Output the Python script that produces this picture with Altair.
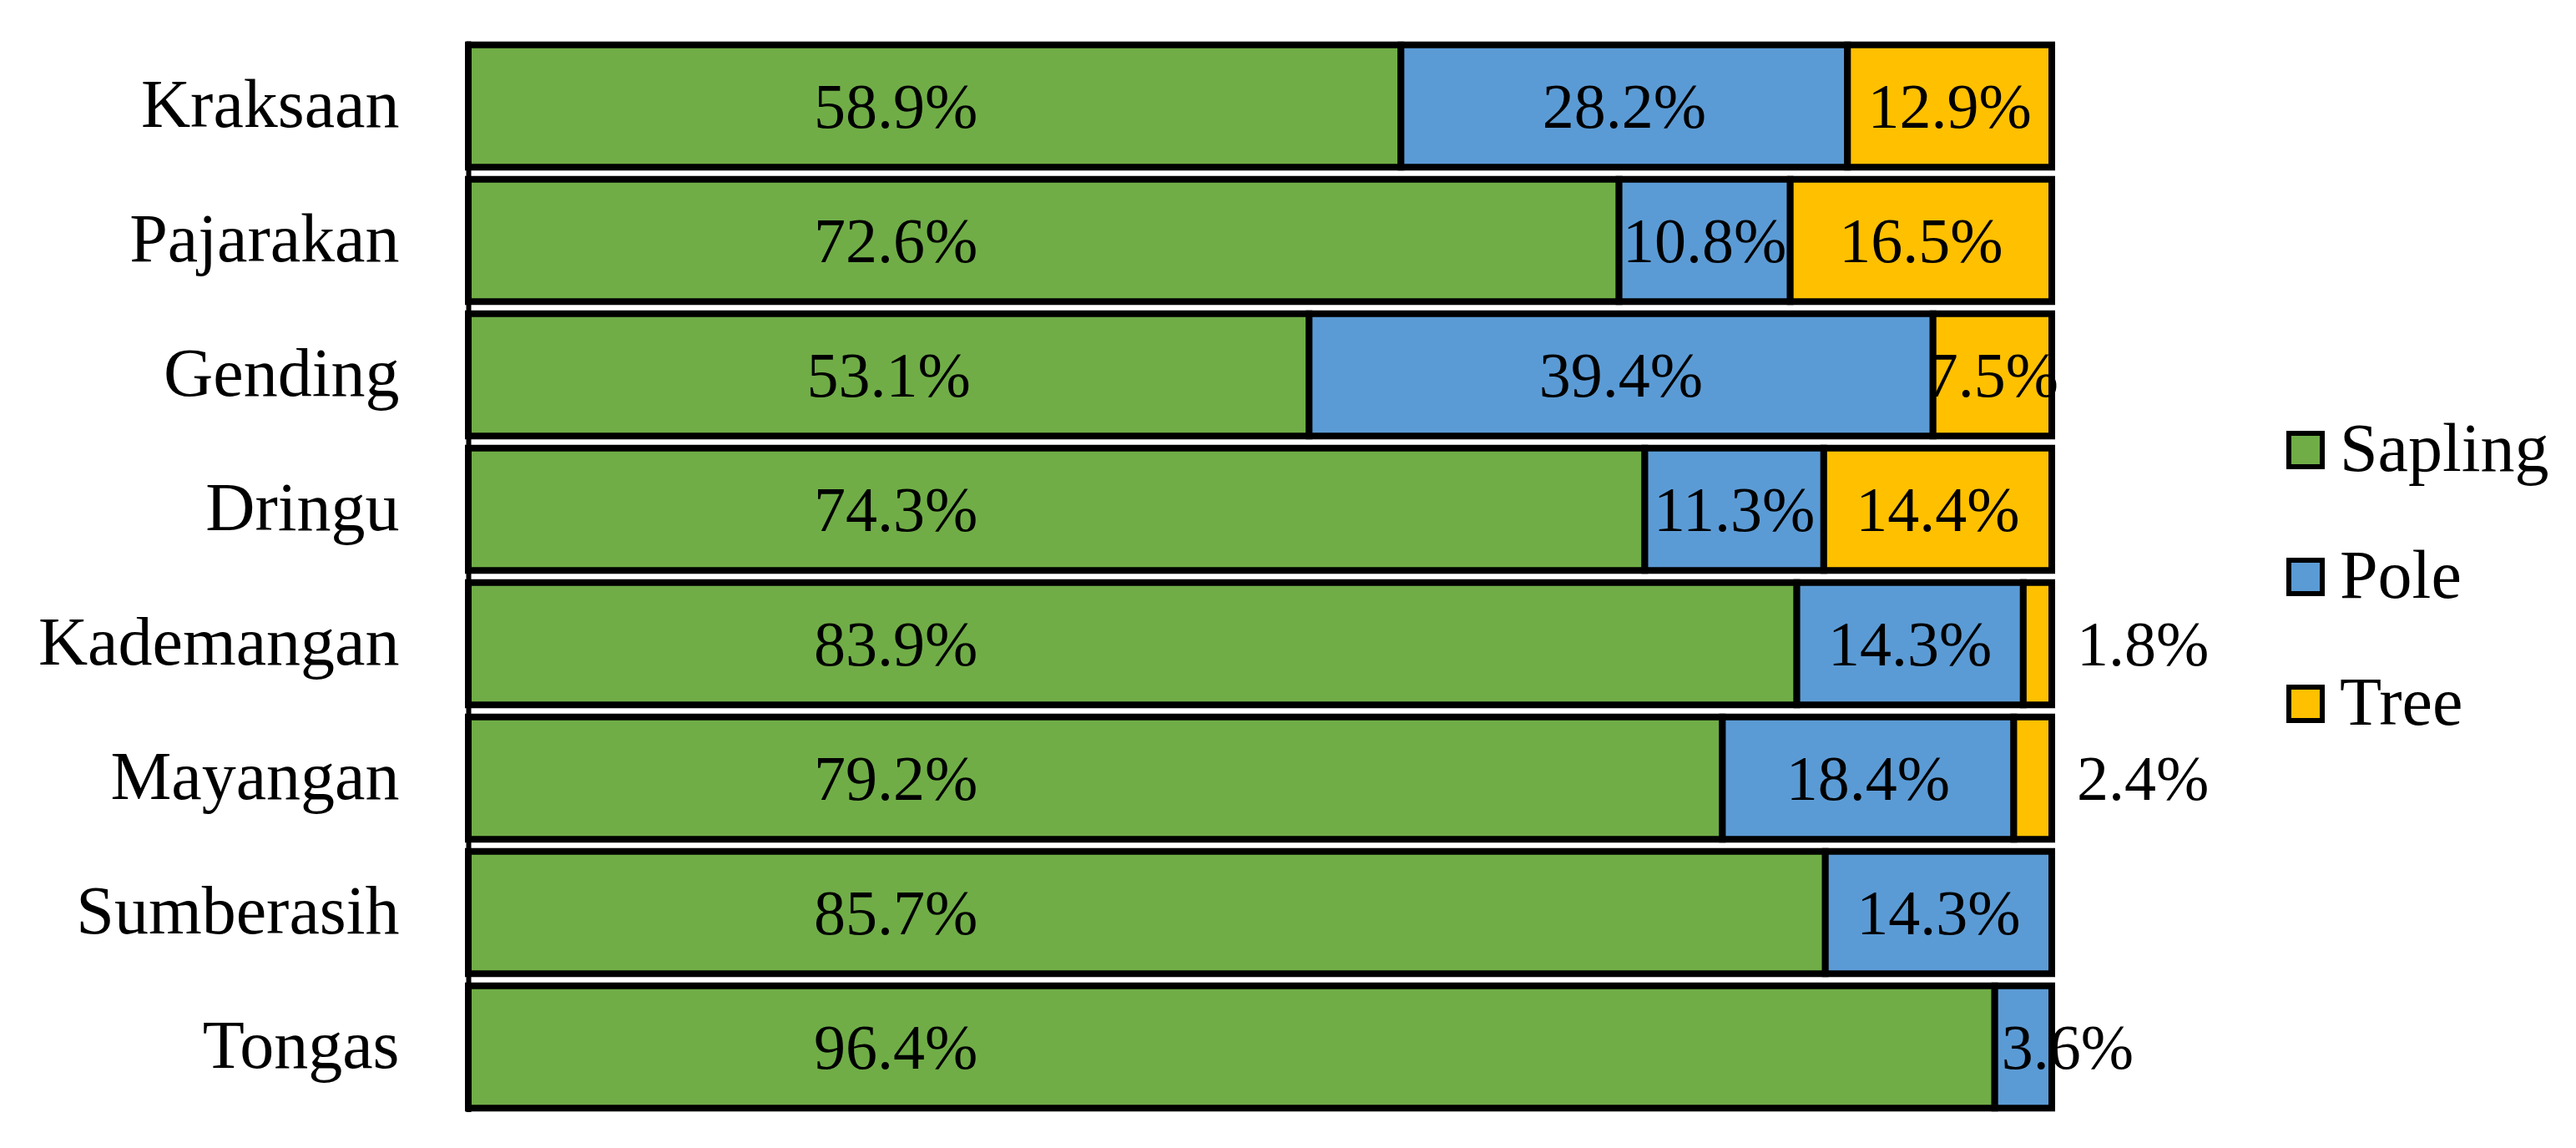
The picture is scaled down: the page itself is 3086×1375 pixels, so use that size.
import altair as alt
import pandas as pd

regions = ["Kraksaan", "Pajarakan", "Gending", "Dringu", "Kademangan", "Mayangan", "Sumberasih", "Tongas"]
sapling = [58.9, 72.6, 53.1, 74.3, 83.9, 79.2, 85.7, 96.4]
pole = [28.2, 10.8, 39.4, 11.3, 14.3, 18.4, 14.3, 3.6]
tree = [12.9, 16.5, 7.5, 14.4, 1.8, 2.4, 0.0, 0.0]
classes = ["Sapling", "Pole", "Tree"]
colors = ["#70AD47", "#5B9BD5", "#FFC000"]

FONT = "Liberation Serif"
SAPLING_LABEL_ANCHOR = 27.0  # sapling labels sit near this share of the axis in the original

rows = []
for i, r in enumerate(regions):
    vals = [sapling[i], pole[i], tree[i]]
    total = sum(vals)
    start = 0.0
    for k, (c, v) in enumerate(zip(classes, vals)):
        s = start / total * 100
        e = (start + v) / total * 100
        start += v
        if v <= 0:
            continue
        if v < 3:
            mode = "outside"
        elif v < 5:
            mode = "edge"
        else:
            mode = "inside"
        mid = (s + e) / 2
        if c == "Sapling":
            mid = min(mid, SAPLING_LABEL_ANCHOR)
        rows.append(dict(region=r, cls=c, order=k, value=v, start=s, end=e,
                         mid=mid, label=f"{v:.1f}%", mode=mode))
df = pd.DataFrame(rows)

y_enc = alt.Y("region:N", sort=regions,
              scale=alt.Scale(paddingInner=0.09, paddingOuter=0.03),
              axis=alt.Axis(title=None, labelFont=FONT, labelFontSize=82, labelColor="black",
                            labelLimit=0, ticks=False, domainColor="black", domainWidth=6,
                            labelPadding=83, minExtent=553, maxExtent=553, grid=False))
x_scale = alt.Scale(domain=[0, 100], nice=False, zero=True)

bars = alt.Chart(df).mark_bar(stroke="black", strokeWidth=8, cornerRadius=0).encode(
    x=alt.X("start:Q", scale=x_scale, axis=None),
    x2="end:Q",
    y=y_enc,
    color=alt.Color("cls:N", sort=classes,
                    scale=alt.Scale(domain=classes, range=colors),
                    legend=alt.Legend(title=None, orient="none", legendX=2160, legendY=449,
                                      symbolType="square", symbolSize=1600,
                                      symbolStrokeColor="black", symbolStrokeWidth=6,
                                      labelFont=FONT, labelFontSize=82, labelColor="black",
                                      labelLimit=0, rowPadding=70, labelOffset=0)),
    order=alt.Order("order:Q"),
)

txt_inside = alt.Chart(df).transform_filter(alt.datum.mode == "inside").mark_text(
    font=FONT, fontSize=76, color="black", baseline="middle", align="center", dy=3
).encode(x=alt.X("mid:Q", scale=x_scale), y=alt.Y("region:N", sort=regions), text="label:N")

txt_edge = alt.Chart(df).transform_filter(alt.datum.mode == "edge").mark_text(
    font=FONT, fontSize=76, color="black", baseline="middle", align="left", dx=8, dy=3
).encode(x=alt.X("start:Q", scale=x_scale), y=alt.Y("region:N", sort=regions), text="label:N")

txt_out = alt.Chart(df).transform_filter(alt.datum.mode == "outside").mark_text(
    font=FONT, fontSize=76, color="black", baseline="middle", align="left", dx=30, dy=3
).encode(x=alt.X("end:Q", scale=x_scale), y=alt.Y("region:N", sort=regions), text="label:N")

chart = alt.layer(bars, txt_inside, txt_edge, txt_out).properties(
    width=1897, height=1283,
    padding={"left": 0, "top": 41, "right": 0, "bottom": 0},
    background="white",
).configure_view(stroke=None)

chart.save("out.html", embed_options={"renderer": "svg", "actions": False})
